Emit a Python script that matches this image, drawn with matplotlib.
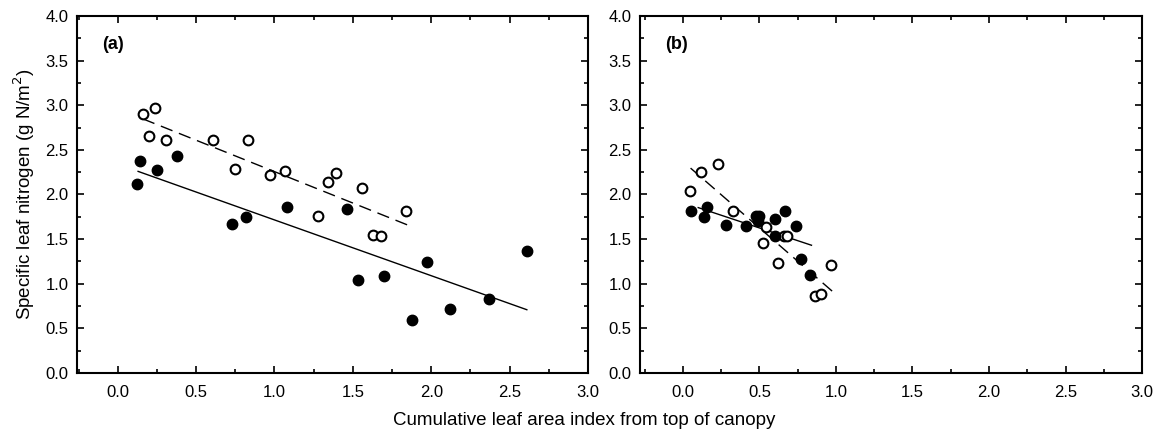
import matplotlib
matplotlib.use('Agg')
import matplotlib.pyplot as plt
import numpy as np
from matplotlib.ticker import MultipleLocator

plt.rcParams['font.family'] = ['Liberation Sans', 'DejaVu Sans']

# panel (a) data
a_open_x = [0.16, 0.24, 0.20, 0.31, 0.61, 0.83, 0.75, 0.97, 1.07, 1.34, 1.39, 1.56, 1.84, 1.28, 1.63, 1.68]
a_open_y = [2.90, 2.97, 2.66, 2.61, 2.61, 2.61, 2.28, 2.22, 2.26, 2.14, 2.24, 2.07, 1.82, 1.76, 1.55, 1.54]
a_fill_x = [0.14, 0.25, 0.38, 0.12, 1.08, 1.46, 0.73, 0.82, 1.53, 1.70, 1.97, 1.88, 2.12, 2.37, 2.61]
a_fill_y = [2.37, 2.27, 2.43, 2.12, 1.86, 1.84, 1.67, 1.75, 1.04, 1.09, 1.24, 0.59, 0.72, 0.83, 1.37]
# fitted lines: slope, intercept, x range
a_open_fit = (-0.704, 2.96, 0.16, 1.85)
a_fill_fit = (-0.625, 2.34, 0.13, 2.61)

# panel (b) data
b_open_x = [0.045, 0.12, 0.23, 0.33, 0.52, 0.54, 0.62, 0.66, 0.68, 0.86, 0.90, 0.97]
b_open_y = [2.04, 2.25, 2.34, 1.82, 1.46, 1.64, 1.23, 1.54, 1.54, 0.86, 0.89, 1.21]
b_fill_x = [0.056, 0.16, 0.14, 0.28, 0.41, 0.48, 0.50, 0.49, 0.60, 0.67, 0.74, 0.60, 0.77, 0.83]
b_fill_y = [1.82, 1.86, 1.75, 1.66, 1.65, 1.76, 1.76, 1.70, 1.73, 1.82, 1.65, 1.53, 1.28, 1.10]
b_open_fit = (-1.49, 2.37, 0.05, 0.98)
b_fill_fit = (-0.57, 1.91, 0.10, 0.84)

panels = [
    ('(a)', a_open_x, a_open_y, a_fill_x, a_fill_y, a_open_fit, a_fill_fit, [0.0659, 0.1406, 0.4375, 0.8226], -0.26),
    ('(b)', b_open_x, b_open_y, b_fill_x, b_fill_y, b_open_fit, b_fill_fit, [0.548, 0.1406, 0.4298, 0.8226], -0.28),
]

fig = plt.figure(figsize=(11.68, 4.34), dpi=100)

for label, ox, oy, fx, fy, ofit, ffit, rect, xmin in panels:
    ax = fig.add_axes(rect)
    # 회귀선
    m, b, x0, x1 = ofit
    xs = np.array([x0, x1])
    ax.plot(xs, m * xs + b, color='black', lw=1.0, dashes=(9, 5))
    m, b, x0, x1 = ffit
    xs = np.array([x0, x1])
    ax.plot(xs, m * xs + b, color='black', lw=1.0)

    ax.plot(ox, oy, 'o', ms=7, mfc='white', mec='black', mew=1.5, ls='none')
    ax.plot(fx, fy, 'o', ms=7.5, mfc='black', mec='black', ls='none')

    ax.set_xlim(xmin, 3.0)
    ax.set_ylim(0, 4.0)
    ax.xaxis.set_major_locator(MultipleLocator(0.5))
    ax.xaxis.set_minor_locator(MultipleLocator(0.25))
    ax.yaxis.set_major_locator(MultipleLocator(0.5))
    ax.yaxis.set_minor_locator(MultipleLocator(0.25))
    ax.xaxis.set_major_formatter(plt.FuncFormatter(lambda v, p: f'{v:.1f}'))
    ax.yaxis.set_major_formatter(plt.FuncFormatter(lambda v, p: f'{v:.1f}'))
    ax.tick_params(which='both', direction='in', top=True, right=True,
                   labelsize=12, width=1.2)
    ax.tick_params(which='major', length=5)
    ax.tick_params(which='minor', length=3)
    ax.tick_params(axis='x', which='major', pad=9)
    ax.tick_params(axis='y', which='major', pad=6)
    for s in ax.spines.values():
        s.set_linewidth(1.5)

    ax.text(0.05, 0.92, label, transform=ax.transAxes, fontsize=13,
            fontweight='bold', va='center', ha='left')

    if label == '(a)':
        ax.set_ylabel('Specific leaf nitrogen (g N/m$^2$)', fontsize=13.5, labelpad=6)

fig.text(0.5, 0.03, 'Cumulative leaf area index from top of canopy',
         ha='center', va='center', fontsize=13.5)

fig.savefig('out.png', dpi=100)
